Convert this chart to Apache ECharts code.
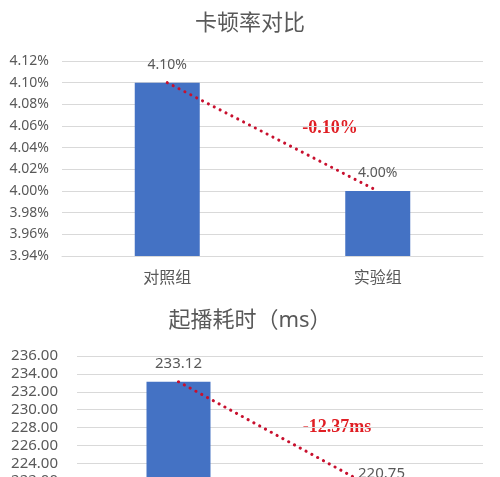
<!DOCTYPE html>
<html>
<head>
<meta charset="utf-8">
<script src="https://cdn.jsdelivr.net/npm/echarts@6/dist/echarts.min.js"></script>
<style>
  html, body { margin: 0; padding: 0; background: #fff; }
  #chart { width: 500px; height: 477px; }
</style>
</head>
<body>
<div id="chart"></div>
<script>
// Data
var categories = ['对照组', '实验组'];
var stallRate = [4.10, 4.00];          // 卡顿率 (%)
var startupTime = [233.12, 220.75];    // 起播耗时 (ms)
var stallTicks = { min: 3.94, max: 4.12, interval: 0.02 };
var startupTicks = { min: 220, max: 236, interval: 2 };

var grey = '#595959';
var blue = '#4472C4';
var red = '#E01E24';
var font = '"Noto Sans", "Noto Sans CJK SC", sans-serif';

var chart = echarts.init(document.getElementById('chart'));

// Delta text from the data
var stallDelta = (stallRate[1] - stallRate[0]).toFixed(2) + '%';
var startupDelta = (startupTime[1] - startupTime[0]).toFixed(2) + 'ms';

function yAxisFor(gridIndex, ticks, suffix, size, margin) {
    return {
        type: 'value',
        gridIndex: gridIndex,
        min: ticks.min,
        max: ticks.max,
        interval: ticks.interval,
        axisLine: { show: false },
        axisTick: { show: false },
        axisLabel: {
            color: grey,
            fontSize: size,
            fontFamily: font,
            margin: margin,
            hideOverlap: false,
            showMinLabel: true,
            showMaxLabel: true,
            formatter: function(v) { return v.toFixed(2) + suffix; }
        },
        splitLine: { lineStyle: { color: '#D9D9D9', width: 1 } }
    };
}

function xAxisFor(gridIndex) {
    return {
        type: 'category',
        gridIndex: gridIndex,
        data: categories,
        axisLine: { show: true, lineStyle: { color: '#D9D9D9' } },
        axisTick: { show: false },
        axisLabel: { color: grey, fontSize: 16, fontFamily: font, margin: 14 }
    };
}

function barFor(index, data, width, fmt, size) {
    return {
        type: 'bar',
        xAxisIndex: index,
        yAxisIndex: index,
        data: data,
        barWidth: width,
        itemStyle: { color: blue },
        label: {
            show: true,
            position: 'top',
            distance: 11,
            color: grey,
            fontSize: size,
            fontFamily: font,
            formatter: fmt
        }
    };
}

function trendFor(index, data) {
    return {
        type: 'line',
        xAxisIndex: index,
        yAxisIndex: index,
        data: data,
        symbol: 'none',
        z: 5,
        silent: true,
        lineStyle: { color: '#C8102E', width: 3, type: [0.1, 6.5], cap: 'round' }
    };
}

chart.setOption({
    animation: false,
    textStyle: { fontFamily: font },

    title: [
        { text: '卡顿率对比', left: 'center', top: 8,
          textStyle: { color: grey, fontSize: 22, fontWeight: 'normal' } },
        { text: '起播耗时（ms）', left: 'center', top: 305,
          textStyle: { color: grey, fontSize: 22, fontWeight: 'normal' } }
    ],

    // Second grid runs past the bottom edge, as in the cropped reference
    grid: [
        { left: 62, right: 17, top: 61, height: 195, outerBoundsMode: 'none' },
        { left: 77, right: 17, top: 356, height: 143, outerBoundsMode: 'none' }
    ],

    xAxis: [xAxisFor(0), xAxisFor(1)],
    yAxis: [
        yAxisFor(0, stallTicks, '%', 14, 13),
        yAxisFor(1, startupTicks, '', 15, 19)
    ],

    series: [
        barFor(0, stallRate, 65, function(p) { return p.value.toFixed(2) + '%'; }, 14),
        trendFor(0, stallRate),
        barFor(1, startupTime, 64, function(p) { return p.value.toFixed(2); }, 15),
        trendFor(1, startupTime)
    ],

    // Delta annotations
    graphic: [
        { type: 'text', x: 330, y: 128,
          style: { text: stallDelta, fill: red, fontSize: 18, fontWeight: 'bold',
                   fontFamily: '"Liberation Serif", serif', align: 'center', verticalAlign: 'middle' } },
        { type: 'text', x: 337, y: 427,
          style: { text: startupDelta, fill: red, fontSize: 18, fontWeight: 'bold',
                   fontFamily: '"Liberation Serif", serif', align: 'center', verticalAlign: 'middle' } }
    ]
});
</script>
</body>
</html>
